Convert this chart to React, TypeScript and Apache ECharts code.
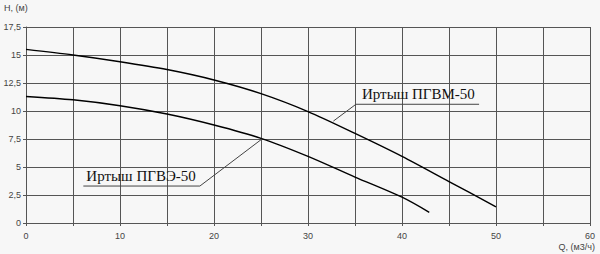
import React, { useEffect, useRef } from "react";
import * as echarts from "echarts";

const flowQ = [0, 5, 10, 15, 20, 25, 30, 35, 40, 45, 50];
const headPGVM = [15.5, 15.0, 14.4, 13.7, 12.77, 11.55, 9.95, 8.0, 5.95, 3.7, 1.45];
const flowQ2 = [0, 5, 10, 15, 20, 25, 30, 35, 40, 42.9];
const headPGVE = [11.3, 11.0, 10.47, 9.73, 8.75, 7.56, 5.95, 4.1, 2.3, 0.95];
const yTicks = [0, 2.5, 5, 7.5, 10, 12.5, 15, 17.5];
const nameM = "Иртыш ПГВМ-50";
const nameE = "Иртыш ПГВЭ-50";
// annotation anchors in data coordinates: [curve point, underline start, underline end]
const annotM = [[32.7, 9.1], [35.1, 10.6], [48.2, 10.6]];
const annotE = [[25.1, 7.5], [18.5, 3.3], [6.1, 3.3]];

export default function App() {
  const ref = useRef<HTMLDivElement>(null);
  useEffect(() => {
    document.body.style.margin = "0";
    const chart = echarts.init(ref.current!, null, { renderer: "svg" });
    const gridColor = "#555";
    const labelColor = "#444";
    chart.setOption({
      animation: false,
      backgroundColor: "#f7f7f7",
      grid: { left: 26, right: 10, top: 27, bottom: 31, containLabel: false },
      xAxis: {
        type: "value",
        min: 0,
        max: 60,
        interval: 5,
        axisLine: { show: true, lineStyle: { color: gridColor } },
        axisTick: { show: true, length: 3, lineStyle: { color: gridColor } },
        axisLabel: {
          color: labelColor,
          fontSize: 9,
          fontFamily: "Liberation Sans, Arial",
          margin: 8,
          formatter: (v: number) => (v % 10 === 0 ? String(v) : ""),
        },
        splitLine: { show: true, lineStyle: { color: gridColor, width: 1 } },
      },
      yAxis: {
        type: "value",
        min: 0,
        max: 17.5,
        interval: 2.5,
        axisLine: { show: true, lineStyle: { color: gridColor } },
        axisTick: { show: true, length: 3, lineStyle: { color: gridColor } },
        axisLabel: {
          color: labelColor,
          fontSize: 9,
          fontFamily: "Liberation Sans, Arial",
          margin: 5,
          formatter: (v: number) =>
            yTicks.includes(v) ? String(v).replace(".", ",") : "",
        },
        splitLine: { show: true, lineStyle: { color: gridColor, width: 1 } },
      },
      series: [
        {
          type: "line",
          name: nameM,
          data: flowQ.map((q, i) => [q, headPGVM[i]]),
          smooth: 0.3,
          showSymbol: false,
          lineStyle: { color: "#000", width: 1.4 },
        },
        {
          type: "line",
          name: nameE,
          data: flowQ2.map((q, i) => [q, headPGVE[i]]),
          smooth: 0.3,
          showSymbol: false,
          lineStyle: { color: "#000", width: 1.4 },
        },
      ],
    });

    const px = (p: number[]) => chart.convertToPixel({ gridIndex: 0 }, p) as number[];
    const mk = (a: number[][], text: string, pad: number): any[] => {
      const pts = a.map(px);
      const left = Math.min(pts[1][0], pts[2][0]) + pad;
      return [
        {
          type: "polyline",
          z: 100,
          shape: { points: pts },
          style: { stroke: "#444", lineWidth: 1, fill: null },
          silent: true,
        },
        {
          type: "text",
          z: 100,
          x: left,
          y: pts[1][1] - 3,
          style: {
            text,
            fill: "#111",
            font: "15px 'Liberation Serif', 'Times New Roman', serif",
            textAlign: "left",
            textVerticalAlign: "bottom",
          },
          silent: true,
        },
      ];
    };
    chart.setOption({
      graphic: [
        {
          type: "text",
          left: 4,
          top: 3,
          style: {
            text: "H, (м)",
            fill: labelColor,
            font: "9px 'Liberation Sans', Arial",
          },
        },
        {
          type: "text",
          right: 5,
          top: 242,
          style: {
            text: "Q, (м3/ч)",
            fill: labelColor,
            font: "9px 'Liberation Sans', Arial",
          },
        },
        ...mk(annotM, nameM, 6),
        ...mk(annotE, nameE, 3),
      ],
    });
    return () => chart.dispose();
  }, []);
  return <div ref={ref} style={{ width: 600, height: 254 }} />;
}
